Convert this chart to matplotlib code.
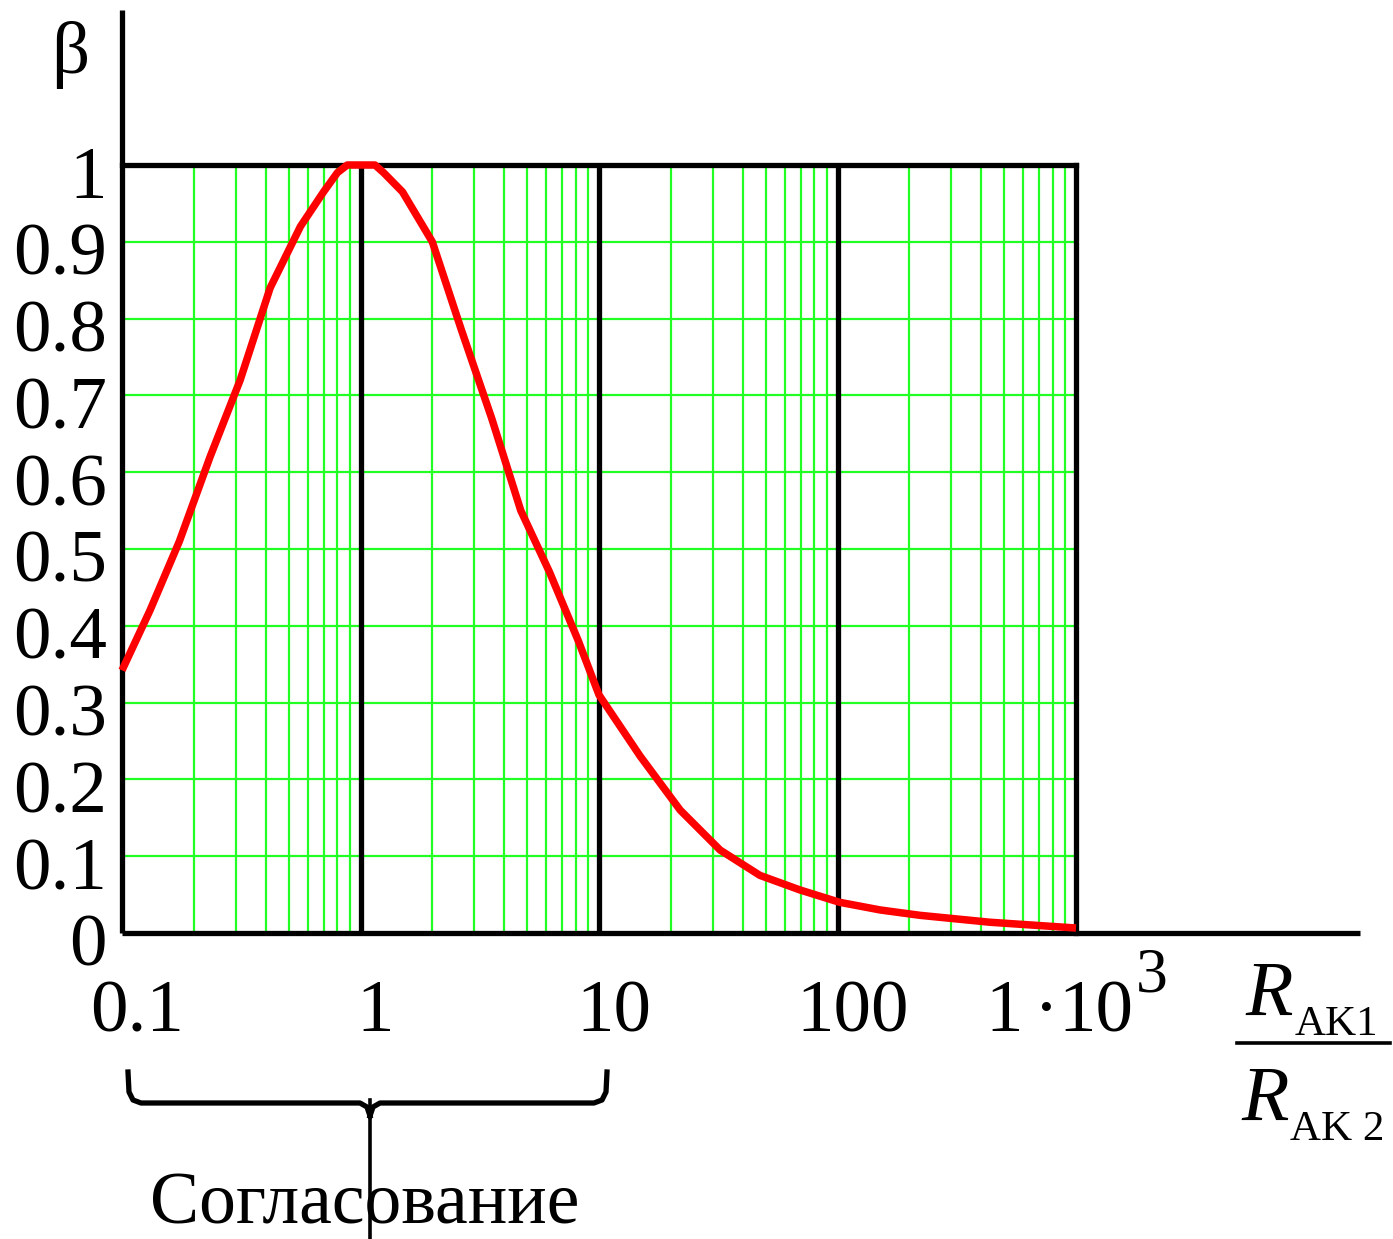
import matplotlib
matplotlib.use("Agg")
import matplotlib.pyplot as plt
from matplotlib.lines import Line2D
from matplotlib.transforms import offset_copy, blended_transform_factory
from matplotlib.ticker import LogLocator, FixedLocator, NullFormatter

# ---- data ----
ratio = [0.1, 0.131, 0.174, 0.234, 0.313, 0.418, 0.56, 0.70, 0.80, 0.88, 1.0, 1.15,
         1.25, 1.5, 2.0, 2.65, 3.55, 4.7, 6.2, 8.2, 10, 14.9, 21.9, 32.2, 47.3,
         69.7, 102, 151, 222, 436, 1000]
beta = [0.342, 0.42, 0.51, 0.62, 0.72, 0.84, 0.92, 0.965, 0.99, 1.0, 1.0, 1.0,
        0.99, 0.965, 0.90, 0.785, 0.67, 0.55, 0.47, 0.38, 0.31, 0.23, 0.16, 0.108,
        0.075, 0.056, 0.04, 0.03, 0.023, 0.014, 0.0065]
y_ticks = [0, 0.1, 0.2, 0.3, 0.4, 0.5, 0.6, 0.7, 0.8, 0.9, 1]
y_tick_labels = ["0", "0.1", "0.2", "0.3", "0.4", "0.5", "0.6", "0.7", "0.8", "0.9", "1"]
x_ticks = [0.1, 1, 10, 100]
x_tick_labels = ["0.1", "1", "10", "100"]
decades = [1, 10, 100]

FONT = "Liberation Serif"
GREEN = "#22ff22"
W, H = 1393, 1239
FS = 54

fig = plt.figure(figsize=(W / 100, H / 100), dpi=100)
ax = fig.add_axes([122 / W, 1 - 933 / H, (1076 - 122) / W, (933 - 165) / H])
ax.set_xscale("log")
ax.set_xlim(0.1, 1000)
ax.set_ylim(0, 1)
for s in ax.spines.values():
    s.set_visible(False)

# grid
ax.xaxis.set_minor_locator(LogLocator(base=10, subs=[2, 3, 4, 5, 6, 7, 8, 9]))
ax.xaxis.set_minor_formatter(NullFormatter())
ax.yaxis.set_major_locator(FixedLocator(y_ticks))
ax.xaxis.grid(True, which="minor", color=GREEN, lw=1.6)
ax.yaxis.grid(True, which="major", color=GREEN, lw=1.6)
ax.set_axisbelow(True)
ax.tick_params(axis="both", which="both", length=0, labelbottom=False, labelleft=False)

for d in decades:
    ax.axvline(d, color="black", lw=3.8, zorder=3)

# frame lines
ax.plot([0, 1], [1, 1], transform=ax.transAxes, color="black", lw=3.8, zorder=3, clip_on=False)
ax.plot([1, 1], [0, 1], transform=ax.transAxes, color="black", lw=3.8, zorder=3, clip_on=False)
ax.plot([0, 0], [0, (933 - 10) / 768], transform=ax.transAxes, color="black", lw=3.8,
        zorder=3, clip_on=False, solid_capstyle="butt")
ax.plot([0, (1360 - 122) / 954], [0, 0], transform=ax.transAxes, color="black", lw=3.8,
        zorder=3, clip_on=False, solid_capstyle="butt")

# curve
ax.plot(ratio, beta, color="#ff0000", lw=5.4, zorder=4, clip_on=False,
        solid_joinstyle="round", solid_capstyle="butt")

# y tick labels
ytr = blended_transform_factory(ax.transAxes, ax.transData)
for yv, lab in zip(y_ticks, y_tick_labels):
    ax.text(0, yv, lab, transform=offset_copy(ytr, fig=fig, x=-15, y=-33, units="dots"),
            ha="right", va="baseline", fontsize=FS, family=FONT)

# x tick labels
xtr = blended_transform_factory(ax.transData, ax.transAxes)
ybase = (933 - 1031) / 768
for xv, lab in zip(x_ticks, x_tick_labels):
    ax.text(xv, ybase, lab, transform=offset_copy(xtr, fig=fig, x=15, y=0, units="dots"),
            ha="center", va="baseline", fontsize=FS, family=FONT)
ax.text(1000, ybase, "1", transform=offset_copy(xtr, fig=fig, x=-72, y=0, units="dots"),
        ha="center", va="baseline", fontsize=FS, family=FONT)
ax.text(1000, ybase, "\u00b7", transform=offset_copy(xtr, fig=fig, x=-30, y=0, units="dots"),
        ha="center", va="baseline", fontsize=FS, family=FONT)
ax.text(1000, ybase, "10", transform=offset_copy(xtr, fig=fig, x=57, y=0, units="dots"),
        ha="right", va="baseline", fontsize=FS, family=FONT)
ax.text(1000, (933 - 992) / 768, "3", transform=offset_copy(xtr, fig=fig, x=60, y=0, units="dots"),
        ha="left", va="baseline", fontsize=46, family=FONT)


def px(x, y):
    return x / W, 1 - y / H


# beta label
fig.text(*px(70, 55), "\u03b2", ha="center", va="center", fontsize=54, family=FONT)

# fraction R_AK1 / R_AK2
fig.text(*px(1269, 1015), "R", ha="center", va="baseline", fontsize=56, family=FONT, style="italic")
fig.text(*px(1295, 1035), "AK1", ha="left", va="baseline", fontsize=31, family=FONT)
fig.add_artist(Line2D([px(1237, 0)[0], px(1390, 0)[0]], [px(0, 1043)[1]] * 2, color="black", lw=2.6))
fig.text(*px(1265, 1120), "R", ha="center", va="baseline", fontsize=56, family=FONT, style="italic")
fig.text(*px(1290, 1140), "AK 2", ha="left", va="baseline", fontsize=31, family=FONT)

# brace
left = [(128, 1072), (129, 1092), (133, 1100), (141, 1103), (360, 1103), (367, 1107), (370, 1116)]
right = [(607, 1072), (606, 1092), (602, 1100), (594, 1103), (380, 1103), (373, 1107), (370, 1116)]
for pts in (left, right):
    xs = [px(x, y)[0] for x, y in pts]
    ys = [px(x, y)[1] for x, y in pts]
    fig.add_artist(Line2D(xs, ys, color="black", lw=3.8, solid_joinstyle="round"))
fig.add_artist(Line2D([px(370, 0)[0]] * 2, [px(0, 1100)[1], px(0, 1239)[1]], color="black", lw=2.6))

fig.text(*px(365, 1224), "Согласование", ha="center", va="baseline", fontsize=53, family=FONT)

fig.savefig("out.png", dpi=100)
